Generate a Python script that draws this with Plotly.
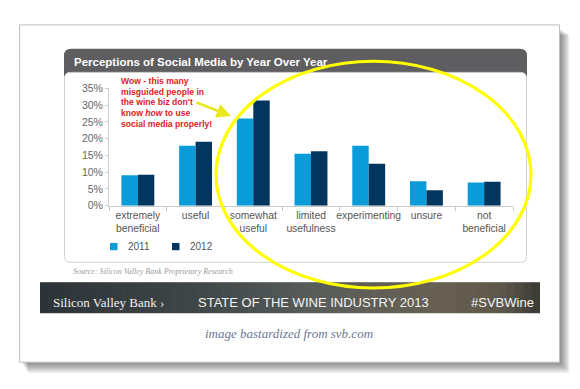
import plotly.graph_objects as go

# ---------------- data ----------------
categories = ["extremely<br>beneficial", "useful", "somewhat<br>useful",
              "limited<br>usefulness", "experimenting", "unsure", "not<br>beneficial"]
series_names = ["2011", "2012"]
values_2011 = [9.1, 17.9, 26.0, 15.5, 17.9, 7.3, 6.9]
values_2012 = [9.2, 19.1, 31.4, 16.2, 12.5, 4.6, 7.1]
y_ticks = [0, 5, 10, 15, 20, 25, 30, 35]
y_tick_labels = [f"{v}%" for v in y_ticks]

title_text = "Perceptions of Social Media by Year Over Year"
note_lines = ["Wow - this many", "misguided people in", "the wine biz don't",
              "know <i>how</i> to use", "social media properly!"]
source_text = "Source: Silicon Valley Bank Proprietary Research"
band_left = "Silicon Valley Bank \u203a"
band_mid = "STATE OF THE WINE INDUSTRY 2013"
band_right = "#SVBWine"
credit_text = "image bastardized from svb.com"

# ---------------- styles ----------------
W, H = 580, 389
colors = ["#0a9bd9", "#03365f"]


def X(p):
    return p / W


def Y(p):
    return 1 - p / H


def rrect_path(x0, y0, x1, y1, r):
    pts = [
        ("M", [(x0 + r, y0)]), ("L", [(x1 - r, y0)]), ("Q", [(x1, y0), (x1, y0 + r)]),
        ("L", [(x1, y1 - r)]), ("Q", [(x1, y1), (x1 - r, y1)]),
        ("L", [(x0 + r, y1)]), ("Q", [(x0, y1), (x0, y1 - r)]),
        ("L", [(x0, y0 + r)]), ("Q", [(x0, y0), (x0 + r, y0)]),
    ]
    s = ""
    for cmd, ps in pts:
        s += cmd + " " + " ".join(f"{X(a):.5f},{Y(b):.5f}" for a, b in ps) + " "
    return s + "Z"


fig = go.Figure()
for name, vals, col in zip(series_names, [values_2011, values_2012], colors):
    fig.add_trace(go.Bar(x=categories, y=vals, name=name, marker=dict(color=col, line=dict(width=0)),
                         showlegend=False, hoverinfo="skip"))

shapes = []
# card shadow
for k in range(7):
    shapes.append(dict(type="rect", xref="paper", yref="paper", layer="below",
                       x0=X(22 + k), y0=Y(24 + k), x1=X(561 + k * 1.4), y1=Y(369 + k * 1.6),
                       fillcolor="rgba(0,0,0,0.075)", line=dict(width=0)))
# card
shapes.append(dict(type="rect", xref="paper", yref="paper", layer="below",
                   x0=X(19.5), y0=Y(19.5), x1=X(559.5), y1=Y(367.5),
                   fillcolor="white", line=dict(color="#bfbfbf", width=1)))
# header
shapes.append(dict(type="path", xref="paper", yref="paper", layer="below",
                   path=rrect_path(64, 44, 527, 80, 7),
                   fillcolor="#5e5e61", line=dict(width=0)))
# inner white panel
shapes.append(dict(type="path", xref="paper", yref="paper", layer="below",
                   path=rrect_path(64.5, 68.5, 526.5, 264.5, 6),
                   fillcolor="white", line=dict(color="#d2d2d2", width=1)))

# dark band with gradient (strips)
stops = [(0.0, (44, 51, 55)), (0.3, (62, 69, 71)), (0.55, (88, 93, 90)),
         (0.8, (104, 96, 82)), (0.93, (92, 86, 74)), (1.0, (58, 57, 52))]


def lerp_color(t):
    for (t0, c0), (t1, c1) in zip(stops[:-1], stops[1:]):
        if t0 <= t <= t1:
            f = (t - t0) / (t1 - t0) if t1 > t0 else 0
            return "rgb(%d,%d,%d)" % tuple(round(a + (b - a) * f) for a, b in zip(c0, c1))
    return "rgb(%d,%d,%d)" % stops[-1][1]


bx0, bx1, by0, by1 = 40, 540, 285, 317
N = 60
for i in range(N):
    xa = bx0 + (bx1 - bx0) * i / N
    xb = bx0 + (bx1 - bx0) * (i + 1) / N
    shapes.append(dict(type="rect", xref="paper", yref="paper", layer="below",
                       x0=X(xa), x1=X(min(xb + 0.6, bx1)), y0=Y(by0), y1=Y(by1),
                       fillcolor=lerp_color((i + 0.5) / N), line=dict(width=0)))

# legend squares
leg_x = [110, 172]
for lx, col in zip(leg_x, colors):
    shapes.append(dict(type="rect", xref="paper", yref="paper", layer="above",
                       x0=X(lx), x1=X(lx + 7.5), y0=Y(244.5), y1=Y(252),
                       fillcolor=col, line=dict(width=0)))

# yellow ellipse
shapes.append(dict(type="circle", xref="paper", yref="paper", layer="above",
                   x0=X(216), x1=X(531), y0=Y(57), y1=Y(291),
                   line=dict(color="#ffff00", width=3.2)))

ann = []
ann.append(dict(text=f"<b>{title_text}</b>", x=X(72), y=Y(57.5), xref="paper", yref="paper",
                xanchor="left", yanchor="middle", showarrow=False,
                font=dict(family="Liberation Sans, Arial", size=11.5, color="white")))
for i, line in enumerate(note_lines):
    ann.append(dict(text=f"<b>{line}</b>", x=X(119), y=Y(77.3 + 11.1 * i), xref="paper", yref="paper",
                    xanchor="left", yanchor="middle", showarrow=False,
                    font=dict(family="Liberation Sans, Arial, sans-serif",
                              size=8.6, color="#e01b22")))
# arrow
ann.append(dict(text="", x=X(231), y=Y(113.5), xref="paper", yref="paper", showarrow=True,
                ax=-36, ay=-14, arrowhead=2, arrowsize=1.1, arrowwidth=2.6, arrowcolor="#e8e81a"))
# legend texts
for lx, name in zip(leg_x, series_names):
    ann.append(dict(text=name, x=X(lx + 16), y=Y(248.5), xref="paper", yref="paper",
                    xanchor="left", yanchor="middle", showarrow=False,
                    font=dict(family="Liberation Sans, Arial", size=10, color="#555555")))
ann.append(dict(text=f"<i>{source_text}</i>", x=X(71), y=Y(273.5), xref="paper", yref="paper",
                xanchor="left", yanchor="middle", showarrow=False,
                font=dict(family="Liberation Serif, serif", size=8, color="#9a9a9a")))
ann.append(dict(text=band_left, x=X(50.5), y=Y(306), xref="paper", yref="paper",
                xanchor="left", yanchor="middle", showarrow=False,
                font=dict(family="Liberation Serif, serif", size=13, color="#f2f2f2")))
ann.append(dict(text=band_mid, x=X(313), y=Y(305.5), xref="paper", yref="paper",
                xanchor="center", yanchor="middle", showarrow=False,
                font=dict(family="Liberation Sans, Arial", size=13, color="#f5f5f5")))
ann.append(dict(text=band_right, x=X(535.5), y=Y(305.5), xref="paper", yref="paper",
                xanchor="right", yanchor="middle", showarrow=False,
                font=dict(family="Liberation Sans, Arial", size=13, color="#f5f5f5")))
ann.append(dict(text=f"<i>{credit_text}</i>", x=X(289), y=Y(338), xref="paper", yref="paper",
                xanchor="center", yanchor="middle", showarrow=False,
                font=dict(family="Liberation Serif, serif", size=13, color="#6a7894")))

fig.update_layout(
    width=W, height=H,
    margin=dict(l=0, r=0, t=0, b=0),
    paper_bgcolor="white", plot_bgcolor="rgba(0,0,0,0)",
    barmode="group", bargap=0.43, bargroupgap=0,
    showlegend=False, hovermode=False,
    shapes=shapes, annotations=ann,
    xaxis=dict(domain=[X(109), X(513)], type="category", showgrid=False, showline=True,
               linecolor="#c9c9c9", linewidth=1, ticks="outside", tickson="boundaries",
               ticklen=4, tickcolor="#c9c9c9", fixedrange=True, tickangle=0,
               tickfont=dict(family="Liberation Sans, Arial", size=10.3, color="#555555")),
    yaxis=dict(domain=[Y(206), Y(85)], range=[0, 35], tickvals=y_ticks, ticktext=y_tick_labels,
               showgrid=False, zeroline=False, showline=True, linecolor="#d0d0d0", linewidth=1,
               ticks="outside", ticklen=3, tickcolor="#d0d0d0", fixedrange=True,
               tickfont=dict(family="Liberation Sans, Arial", size=10.5, color="#666666")),
)

fig.write_html("out.html", config={"displayModeBar": False},
               post_script="document.body.style.margin='0';document.body.style.overflow='hidden';")
